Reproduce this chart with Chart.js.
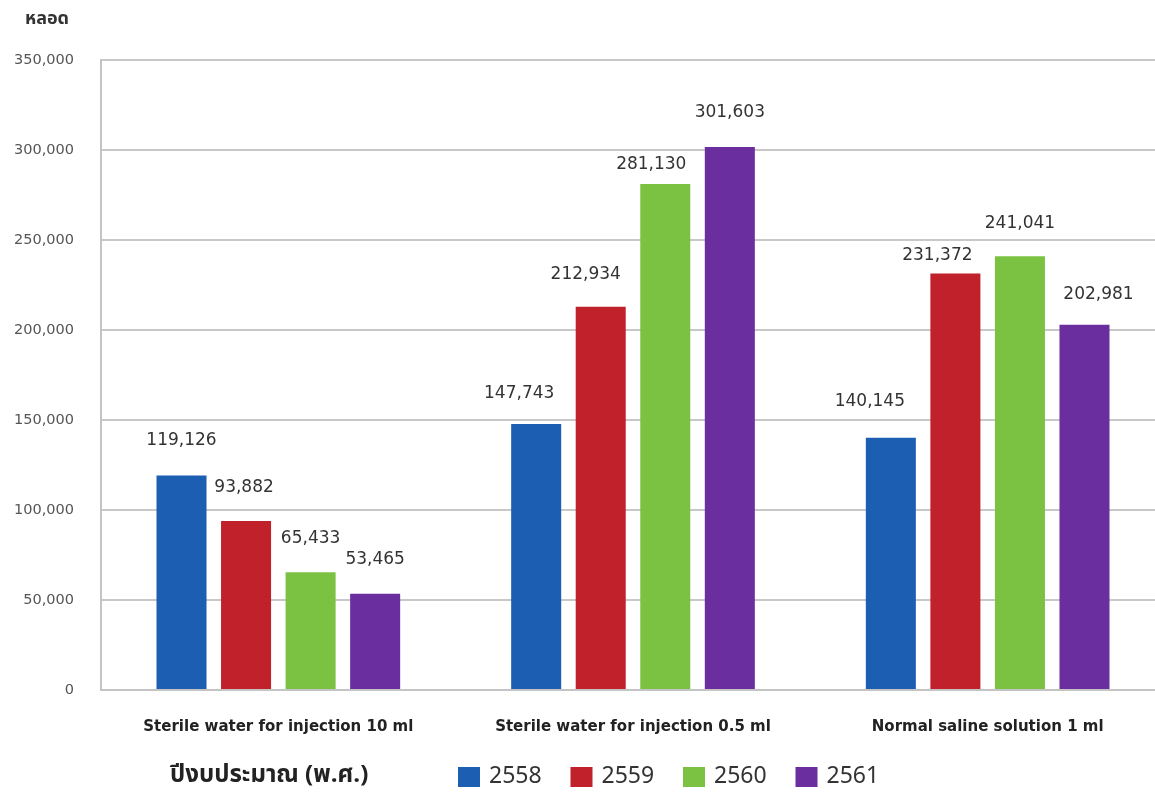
<!DOCTYPE html>
<html>
<head>
<meta charset="utf-8">
<script src="https://cdn.jsdelivr.net/npm/chart.js@4.4.1/dist/chart.umd.min.js"></script>
<style>
  html, body { margin: 0; padding: 0; background: #fff; overflow: hidden; }
  #wrap { width: 1170px; height: 798px; position: relative; }
</style>
</head>
<body>
<div id="wrap"><canvas id="drug-chart"></canvas></div>
<script>
  // data
  var categories = ["Sterile water for injection 10 ml", "Sterile water for injection 0.5 ml", "Normal saline solution 1 ml"];
  var years = ["2558", "2559", "2560", "2561"];
  var values2558 = [119126, 147743, 140145];
  var values2559 = [93882, 212934, 231372];
  var values2560 = [65433, 281130, 241041];
  var values2561 = [53465, 301603, 202981];
  var colors = ["#1c5fb2", "#c0212b", "#7cc242", "#6a2e9e"];
  var yTicks = [0, 50000, 100000, 150000, 200000, 250000, 300000, 350000];
  var unitLabel = "หลอด";
  var legendTitle = "ปีงบประมาณ (พ.ศ.)";

  var thaiFont = "'Noto Sans Thai', 'Noto Sans', Tahoma, 'DejaVu Sans', sans-serif";
  var numFont = "'DejaVu Sans', Verdana, sans-serif";

  function fmt(v) { return v.toLocaleString('en-US'); }

  // value labels above bars, nudged like the original to avoid collisions
  var labelShiftX = [[0, -17, -21], [-2, -15, -18], [0, -14, 0], [0, 0, 14]];
  var labelGap = [[35, 30, 36], [33, 32, 18], [34, 19, 33], [34, 35, 30]];

  var barLabels = {
    id: 'barLabels',
    afterDatasetsDraw: function(chart) {
      var ctx = chart.ctx;
      ctx.save();
      ctx.font = "17px " + numFont;
      ctx.fillStyle = "#333";
      ctx.textAlign = "center";
      ctx.textBaseline = "middle";
      chart.data.datasets.forEach(function(ds, i) {
        chart.getDatasetMeta(i).data.forEach(function(bar, j) {
          ctx.fillText(fmt(ds.data[j]), bar.x + labelShiftX[i][j], bar.y - labelGap[i][j]);
        });
      });
      ctx.restore();
    }
  };

  // unit label and inline legend
  var extras = {
    id: 'extras',
    afterDraw: function(chart) {
      var ctx = chart.ctx;
      ctx.save();
      ctx.fillStyle = "#333";
      ctx.font = "bold 18px " + thaiFont;
      ctx.textAlign = "center";
      ctx.textBaseline = "middle";
      ctx.fillText(unitLabel, 47, 20);

      var y = 777;
      ctx.textAlign = "left";
      ctx.font = "bold 24px " + thaiFont;
      ctx.fillStyle = "#222";
      ctx.fillText(legendTitle, 170, y);
      ctx.font = "23px " + thaiFont;
      chart.data.datasets.forEach(function(ds, i) {
        var x = 458 + i * 112.5;
        ctx.fillStyle = ds.backgroundColor;
        ctx.fillRect(x, y - 10, 22, 20);
        ctx.fillStyle = "#333";
        ctx.fillText(ds.label, x + 31, y + 1);
      });
      ctx.restore();
    }
  };

  var seriesValues = [values2558, values2559, values2560, values2561];

  var drugChart = new Chart(document.getElementById("drug-chart"), {
    type: 'bar',
    data: {
      labels: categories,
      datasets: years.map(function(yr, i) {
        return {
          label: yr,
          data: seriesValues[i],
          backgroundColor: colors[i],
          borderWidth: 0,
          categoryPercentage: 0.728,
          barPercentage: 0.775
        };
      })
    },
    options: {
      responsive: true,
      maintainAspectRatio: false,
      animation: false,
      layout: { padding: { top: 60, right: 5, bottom: 48, left: 0 } },
      plugins: {
        legend: { display: false },
        title: { display: false },
        tooltip: { enabled: false }
      },
      scales: {
        x: {
          grid: { display: false },
          border: { display: true, color: '#c4c4c4', width: 2 },
          ticks: {
            color: '#222',
            font: { family: numFont, size: 15, weight: 'bold' },
            padding: 20
          },
          afterFit: function(scale) { scale.height = 60; }
        },
        y: {
          min: 0,
          max: 350000,
          afterBuildTicks: function(scale) {
            scale.ticks = yTicks.map(function(v) { return { value: v }; });
          },
          grid: { color: '#c8c8c8', lineWidth: 2, drawTicks: false },
          border: { display: true, color: '#c4c4c4', width: 2 },
          ticks: {
            color: '#555',
            font: { family: numFont, size: 14.5 },
            padding: 27,
            callback: function(v) { return fmt(v); }
          },
          afterFit: function(scale) { scale.width = 101; }
        }
      }
    },
    plugins: [barLabels, extras]
  });
</script>
</body>
</html>
